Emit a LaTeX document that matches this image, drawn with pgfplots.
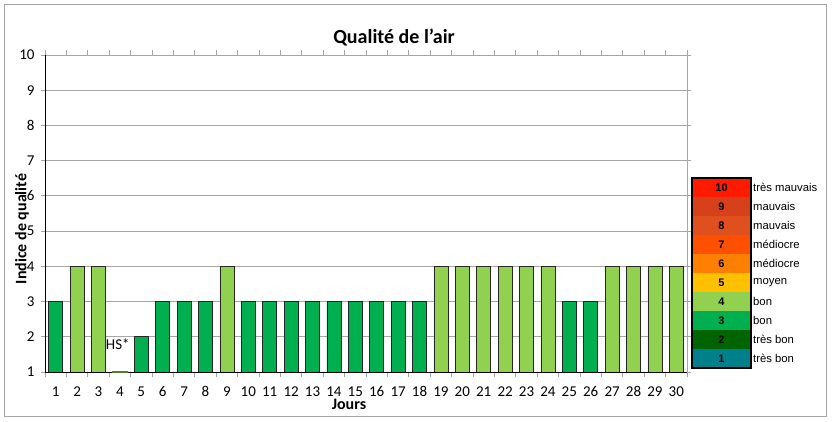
\documentclass[border=0pt]{standalone}
\usepackage{pgfplots}
\pgfplotsset{compat=1.18}
\usepackage{fontspec}
\setmainfont{Carlito}
\newfontfamily\arialf{Liberation Sans}
\definecolor{cdark}{HTML}{00B050}
\definecolor{clight}{HTML}{92D050}
\definecolor{gridc}{HTML}{A6A6A6}
\definecolor{l10}{HTML}{FF1A00}
\definecolor{l9}{HTML}{D6401A}
\definecolor{l8}{HTML}{E0501E}
\definecolor{l7}{HTML}{FF5000}
\definecolor{l6}{HTML}{FF8000}
\definecolor{l5}{HTML}{FFC000}
\definecolor{l4}{HTML}{92D050}
\definecolor{l3}{HTML}{00B050}
\definecolor{l2}{HTML}{006400}
\definecolor{l1}{HTML}{00808A}
\begin{document}
\begin{tikzpicture}[x=1pt,y=1pt]
\useasboundingbox (0,0) rectangle (832,421);
\draw[gridc, line width=1pt] (4,5) rectangle (826,416);
\begin{axis}[
  anchor=south west, at={(45pt,49pt)},
  width=642pt, height=317pt, scale only axis,
  xmin=0.5, xmax=30.5, ymin=1, ymax=10,
  ybar, bar width=14pt,
  xtick={1,...,30}, major x tick style={draw=none},
  minor xtick={0.5,1.5,...,30.5},
  ytick={1,...,10},
  tick align=outside,
  major tick length=4pt, minor tick length=5pt,
  tick style={gridc, line width=0.8pt},
  ymajorgrids, grid style={gridc, line width=0.8pt},
  axis line style={gridc, line width=1pt},
  tick label style={font=\fontsize{15}{17}\selectfont},
  /pgf/number format/assume math mode=true,
  xticklabel style={yshift=-7pt},
  yticklabel style={xshift=-3pt},
  clip=false,
]
\addplot[fill=cdark, draw=black!85, line width=0.8pt, bar shift=0pt] coordinates {
(1,3) (5,2) (6,3) (7,3) (8,3) (10,3) (11,3) (12,3) (13,3) (14,3) (15,3) (16,3) (17,3) (18,3) (25,3) (26,3)};
\addplot[fill=clight, draw=black!85, line width=0.8pt, bar shift=0pt] coordinates {
(2,4) (3,4) (9,4) (19,4) (20,4) (21,4) (22,4) (23,4) (24,4) (27,4) (28,4) (29,4) (30,4)};
\draw[black, line width=1pt] (rel axis cs:0,0) -- (rel axis cs:0,1);
\draw[black, line width=1pt] (rel axis cs:0,0) -- (rel axis cs:1,0);
\addplot[draw=clight!60!black, line width=1.2pt, bar shift=0pt, fill=none] coordinates {(4,1.012)};
\node[font=\fontsize{15}{17}\selectfont] at (axis cs:3.9,1.8) {HS*};
\end{axis}
\node[font=\fontsize{20}{24}\selectfont\bfseries] at (394,384) {Qualité de l\char"27 air};
\node[font=\fontsize{16}{19}\selectfont\bfseries] at (349,17) {Jours};
\node[font=\fontsize{16}{19}\selectfont\bfseries, rotate=90] at (22,192) {Indice de qualité};
% legend table
\foreach \k/\lab in {10/très mauvais,9/mauvais,8/mauvais,7/médiocre,6/médiocre,5/moyen,4/bon,3/bon,2/très bon,1/très bon}{
  \pgfmathsetmacro{\yt}{421-178-(10-\k)*19}
  \fill[l\k] (692,\yt) rectangle (751,\yt-19);
  \node[font=\arialf\fontsize{11}{13}\selectfont\bfseries] at (721.5,\yt-9.5) {\k};
  \node[font=\arialf\fontsize{11.3}{13}\selectfont, anchor=west, inner sep=0pt] at (753,\yt-9.5) {\lab};
}
\draw[black, line width=2pt] (692,243) rectangle (751,53);
\end{tikzpicture}
\end{document}
